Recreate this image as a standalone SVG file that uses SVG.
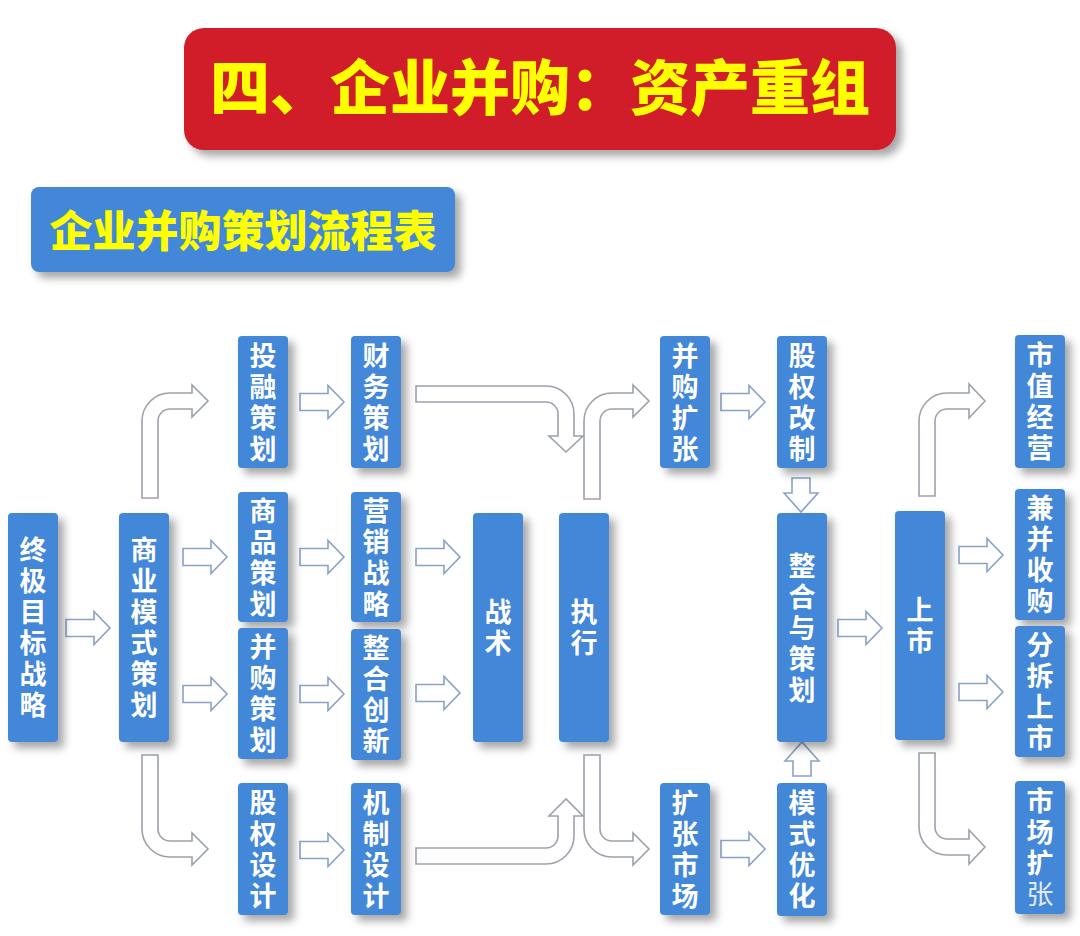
<svg xmlns="http://www.w3.org/2000/svg" xmlns:xlink="http://www.w3.org/1999/xlink" width="1080" height="936" viewBox="0 0 1080 936">
<style>
.box{fill:#4287D8}
.lbl{font-family:"Noto Sans CJK SC","Noto Sans",sans-serif;font-weight:bold;font-size:27px;fill:#FFFFFF;text-anchor:middle;writing-mode:vertical-rl;letter-spacing:4px}
.sa{fill:#FFFFFF;stroke:#8AA2C8;stroke-width:1.6}
.ba{fill:#FFFFFF;stroke:#9CA2AC;stroke-width:1.6}
</style>
<defs>
<filter id="sh" x="-30%" y="-30%" width="170%" height="170%">
<feDropShadow dx="6" dy="6" stdDeviation="4" flood-color="#000" flood-opacity="0.35"/>
</filter>
<path id="ha" d="M0,-8.5 H28 V-16.5 L44,0 L28,16.5 V8.5 H0 Z"/>
<path id="va" d="M-9,0 V15 H-17 L0,34 L17,15 H9 V0 Z"/>
</defs>
<rect width="1080" height="936" fill="#FFFFFF"/>

<g id="title">
<rect x="184" y="28" width="712" height="122" rx="20" fill="#D11F2A" filter="url(#sh)"/>
<text x="540" y="110" font-family="Noto Sans CJK SC, sans-serif" font-weight="900" font-size="60" fill="#FFFF00" text-anchor="middle">四、企业并购：资产重组</text>
</g>
<g id="subtitle">
<rect x="31" y="187" width="424" height="85" rx="8" fill="#4287D8" filter="url(#sh)"/>
<text x="243" y="247" font-family="Noto Sans CJK SC, sans-serif" font-weight="900" font-size="43" fill="#FFFF00" text-anchor="middle">企业并购策划流程表</text>
</g>

<g id="connectors">
<use href="#ha" class="sa" x="66" y="628"/>
<use href="#ha" class="sa" x="183" y="557"/>
<use href="#ha" class="sa" x="183" y="694"/>
<use href="#ha" class="sa" x="300" y="402"/>
<use href="#ha" class="sa" x="300" y="557"/>
<use href="#ha" class="sa" x="300" y="694"/>
<use href="#ha" class="sa" x="300" y="850"/>
<use href="#ha" class="sa" x="416" y="557"/>
<use href="#ha" class="sa" x="416" y="693"/>
<use href="#ha" class="sa" x="721" y="402"/>
<use href="#ha" class="sa" x="721" y="849"/>
<use href="#ha" class="sa" x="838" y="628"/>
<use href="#ha" class="sa" x="959" y="555"/>
<use href="#ha" class="sa" x="959" y="692"/>
<use href="#va" class="sa" x="801" y="478"/>
<use href="#va" class="sa" transform="translate(802,776) scale(1,-1)"/>
<path class="ba" d="M142,498 V421 A28,28 0 0 1 170,393 H192 V385 L208,401 L192,417 V409 H170 A12,12 0 0 0 158,421 V498 Z"/>
<path class="ba" d="M142,755 H158 V829 A12,12 0 0 0 170,841 H192 V833 L208,849 L192,865 V857 H170 A28,28 0 0 1 142,829 Z"/>
<path class="ba" d="M416,386 H546 A28,28 0 0 1 574,414 V436 H583 L566,452 L549,436 H558 V414 A12,12 0 0 0 546,402 H416 Z"/>
<path class="ba" d="M584,499 V421 A28,28 0 0 1 612,393 H633 V385 L649,401 L633,417 V409 H612 A12,12 0 0 0 600,421 V499 Z"/>
<path class="ba" d="M416,848 H546 A12,12 0 0 0 558,836 V816 H549 L566,799 L583,816 H574 V836 A28,28 0 0 1 546,864 H416 Z"/>
<path class="ba" d="M584,755 H600 V829 A12,12 0 0 0 612,841 H633 V833 L649,849 L633,865 V857 H612 A28,28 0 0 1 584,829 Z"/>
<path class="ba" d="M919,496 V421 A28,28 0 0 1 947,393 H969 V384 L985,401 L969,418 V409 H947 A12,12 0 0 0 935,421 V496 Z"/>
<path class="ba" d="M919,753 H935 V827 A12,12 0 0 0 947,839 H969 V830 L985,847 L969,864 V855 H947 A28,28 0 0 1 919,827 Z"/>
</g>

<g id="n1"><rect class="box" x="8" y="513" width="50" height="229" rx="4" filter="url(#sh)"/><text class="lbl" x="33" y="629.5">终极目标战略</text></g>
<g id="n2"><rect class="box" x="119" y="513" width="50" height="229" rx="4" filter="url(#sh)"/><text class="lbl" x="144" y="629.5">商业模式策划</text></g>
<g id="n3"><rect class="box" x="238" y="336" width="50" height="132" rx="4" filter="url(#sh)"/><text class="lbl" x="263" y="404">投融策划</text></g>
<g id="n4"><rect class="box" x="238" y="492" width="50" height="130" rx="4" filter="url(#sh)"/><text class="lbl" x="263" y="559">商品策划</text></g>
<g id="n5"><rect class="box" x="238" y="628" width="50" height="131" rx="4" filter="url(#sh)"/><text class="lbl" x="263" y="695.5">并购策划</text></g>
<g id="n6"><rect class="box" x="238" y="783" width="50" height="132" rx="4" filter="url(#sh)"/><text class="lbl" x="263" y="851">股权设计</text></g>
<g id="n7"><rect class="box" x="351" y="336" width="50" height="132" rx="4" filter="url(#sh)"/><text class="lbl" x="376" y="404">财务策划</text></g>
<g id="n8"><rect class="box" x="351" y="492" width="50" height="130" rx="4" filter="url(#sh)"/><text class="lbl" x="376" y="559">营销战略</text></g>
<g id="n9"><rect class="box" x="351" y="629" width="50" height="131" rx="4" filter="url(#sh)"/><text class="lbl" x="376" y="696.5">整合创新</text></g>
<g id="n10"><rect class="box" x="351" y="783" width="50" height="132" rx="4" filter="url(#sh)"/><text class="lbl" x="376" y="851">机制设计</text></g>
<g id="n11"><rect class="box" x="473" y="513" width="50" height="229" rx="4" filter="url(#sh)"/><text class="lbl" x="498" y="629.5">战术</text></g>
<g id="n12"><rect class="box" x="559" y="513" width="50" height="229" rx="4" filter="url(#sh)"/><text class="lbl" x="584" y="629.5">执行</text></g>
<g id="n13"><rect class="box" x="660" y="336" width="50" height="132" rx="4" filter="url(#sh)"/><text class="lbl" x="685" y="404">并购扩张</text></g>
<g id="n14"><rect class="box" x="660" y="783" width="50" height="132" rx="4" filter="url(#sh)"/><text class="lbl" x="685" y="851">扩张市场</text></g>
<g id="n15"><rect class="box" x="777" y="336" width="50" height="132" rx="4" filter="url(#sh)"/><text class="lbl" x="802" y="404">股权改制</text></g>
<g id="n16"><rect class="box" x="777" y="513" width="50" height="229" rx="4" filter="url(#sh)"/><text class="lbl" x="802" y="629.5">整合与策划</text></g>
<g id="n17"><rect class="box" x="777" y="783" width="50" height="133" rx="4" filter="url(#sh)"/><text class="lbl" x="802" y="851.5">模式优化</text></g>
<g id="n18"><rect class="box" x="895" y="511" width="50" height="229" rx="4" filter="url(#sh)"/><text class="lbl" x="920" y="627.5">上市</text></g>
<g id="n19"><rect class="box" x="1015" y="335" width="50" height="133" rx="4" filter="url(#sh)"/><text class="lbl" x="1040" y="403.5">市值经营</text></g>
<g id="n20"><rect class="box" x="1015" y="489" width="50" height="131" rx="4" filter="url(#sh)"/><text class="lbl" x="1040" y="556.5">兼并收购</text></g>
<g id="n21"><rect class="box" x="1015" y="626" width="50" height="131" rx="4" filter="url(#sh)"/><text class="lbl" x="1040" y="693.5">分拆上市</text></g>
<g id="n22"><rect class="box" x="1015" y="781" width="50" height="133" rx="4" filter="url(#sh)"/><text class="lbl" x="1040" y="849.5">市场扩<tspan font-weight="normal" fill="#E2EAF6">张</tspan></text></g>
</svg>
